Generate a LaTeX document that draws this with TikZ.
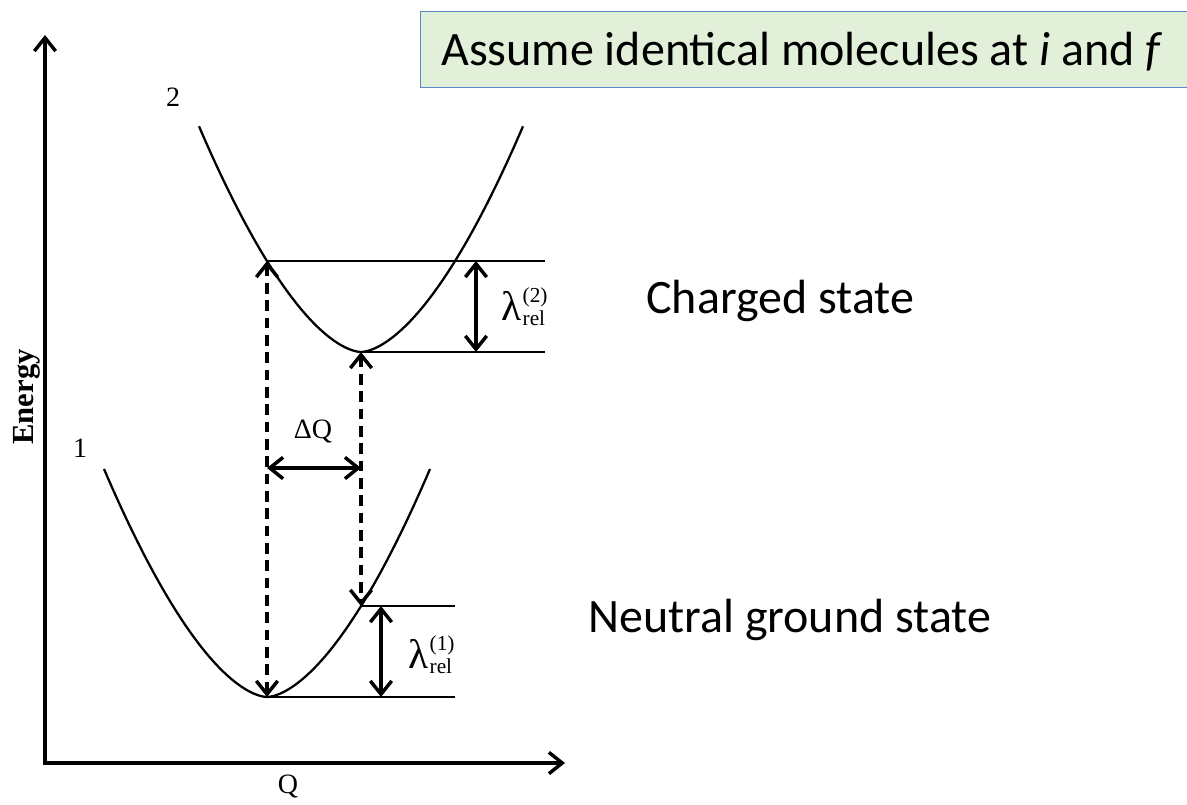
\documentclass[tikz,border=0pt]{standalone}
\usepackage{fontspec}
\setmainfont{Liberation Serif}
\newfontfamily\calib{Carlito}
\usetikzlibrary{arrows.meta}
\definecolor{boxgreen}{HTML}{E2F0D9}
\definecolor{boxblue}{HTML}{5B86C8}
\newcommand\mylam[1]{{\fontsize{31}{31}\selectfont λ}\kern1pt\rlap{\raisebox{13pt}{\fontsize{16}{16}\selectfont (#1)}}\raisebox{-4pt}{\fontsize{16}{16}\selectfont rel}}
\tikzset{
  >={Straight Barb[length=10pt,width=16pt]},
  axis/.style={line width=2.6pt,<->},
  curve/.style={line width=1.7pt},
  level/.style={line width=1.7pt},
  dasharrow/.style={line width=2.6pt,<->,dash pattern=on 8pt off 5pt},
  solidarrow/.style={line width=2.6pt,<->},
  lab/.style={font=\fontsize{21}{21}\selectfont,inner sep=0pt},
  bigtext/.style={font=\calib\fontsize{36}{36}\selectfont,inner sep=0pt,anchor=base west},
  titlebox/.style={draw=boxblue,fill=boxgreen,line width=1.1pt,inner sep=0pt},
}
\begin{document}
\begin{tikzpicture}[x=0.75pt,y=-0.75pt]
\useasboundingbox (0,0) rectangle (1187,804);
% title box
\node[titlebox,anchor=north west,minimum width=590pt,minimum height=57pt] (tbox) at (420,11) {};
\node[bigtext] (title) at (441,65) {Assume identical molecules at \textit{i} and \textit{f}};
% axes
\coordinate (ytop) at (45,35);
\coordinate (O) at (45,763);
\coordinate (xend) at (565,763);
\draw[axis] (ytop) -- (O) -- (xend);
\node[rotate=90,font=\fontsize{23}{23}\selectfont\bfseries,inner sep=0pt] (energy) at (27,397) {Energy};
\node[lab] (qlab) at (288,786) {Q};
% curves
\draw[curve] plot[domain=-162:162,samples=101,smooth] ({361+\x},{352-0.0461*(abs(\x)+0.001)^1.67});
\draw[curve] plot[domain=-163:163,samples=101,smooth] ({267+\x},{697-0.0461*(abs(\x)+0.001)^1.67});
\node[lab] (n2) at (173,97) {2};
\node[lab] (n1) at (80,448) {1};
% key points
\coordinate (u1) at (267,261);
\coordinate (u2) at (361,352);
\coordinate (l1) at (361,606);
\coordinate (l2) at (267,697);
\coordinate (u1e) at (545,261);
\coordinate (u2e) at (545,352);
\coordinate (l1e) at (455,606);
\coordinate (l2e) at (455,697);
\draw[level] (u1) -- (u1e);
\draw[level] (u2) -- (u2e);
\draw[level] (l1) -- (l1e);
\draw[level] (l2) -- (l2e);
% dashed transitions
\draw[dasharrow] (u1) -- (l2);
\draw[dasharrow] (u2) -- (l1);
% Delta Q
\coordinate (dqa) at (267,468);
\coordinate (dqb) at (361,468);
\draw[solidarrow] (dqa) -- (dqb);
\node[lab] (dq) at (313,431) {ΔQ};
% relaxation energies
\coordinate (r2a) at (476,261);
\coordinate (r2b) at (476,352);
\coordinate (r1a) at (381,606);
\coordinate (r1b) at (381,697);
\draw[solidarrow] (r2a) -- (r2b);
\draw[solidarrow] (r1a) -- (r1b);
\node[inner sep=0pt,anchor=base west] (lam2) at (501,320) {\mylam{2}};
\node[inner sep=0pt,anchor=base west] (lam1) at (408,668) {\mylam{1}};
% state labels
\node[bigtext] (charged) at (646,313) {Charged state};
\node[bigtext] (neutral) at (588,632) {Neutral ground state};
\end{tikzpicture}
\end{document}
